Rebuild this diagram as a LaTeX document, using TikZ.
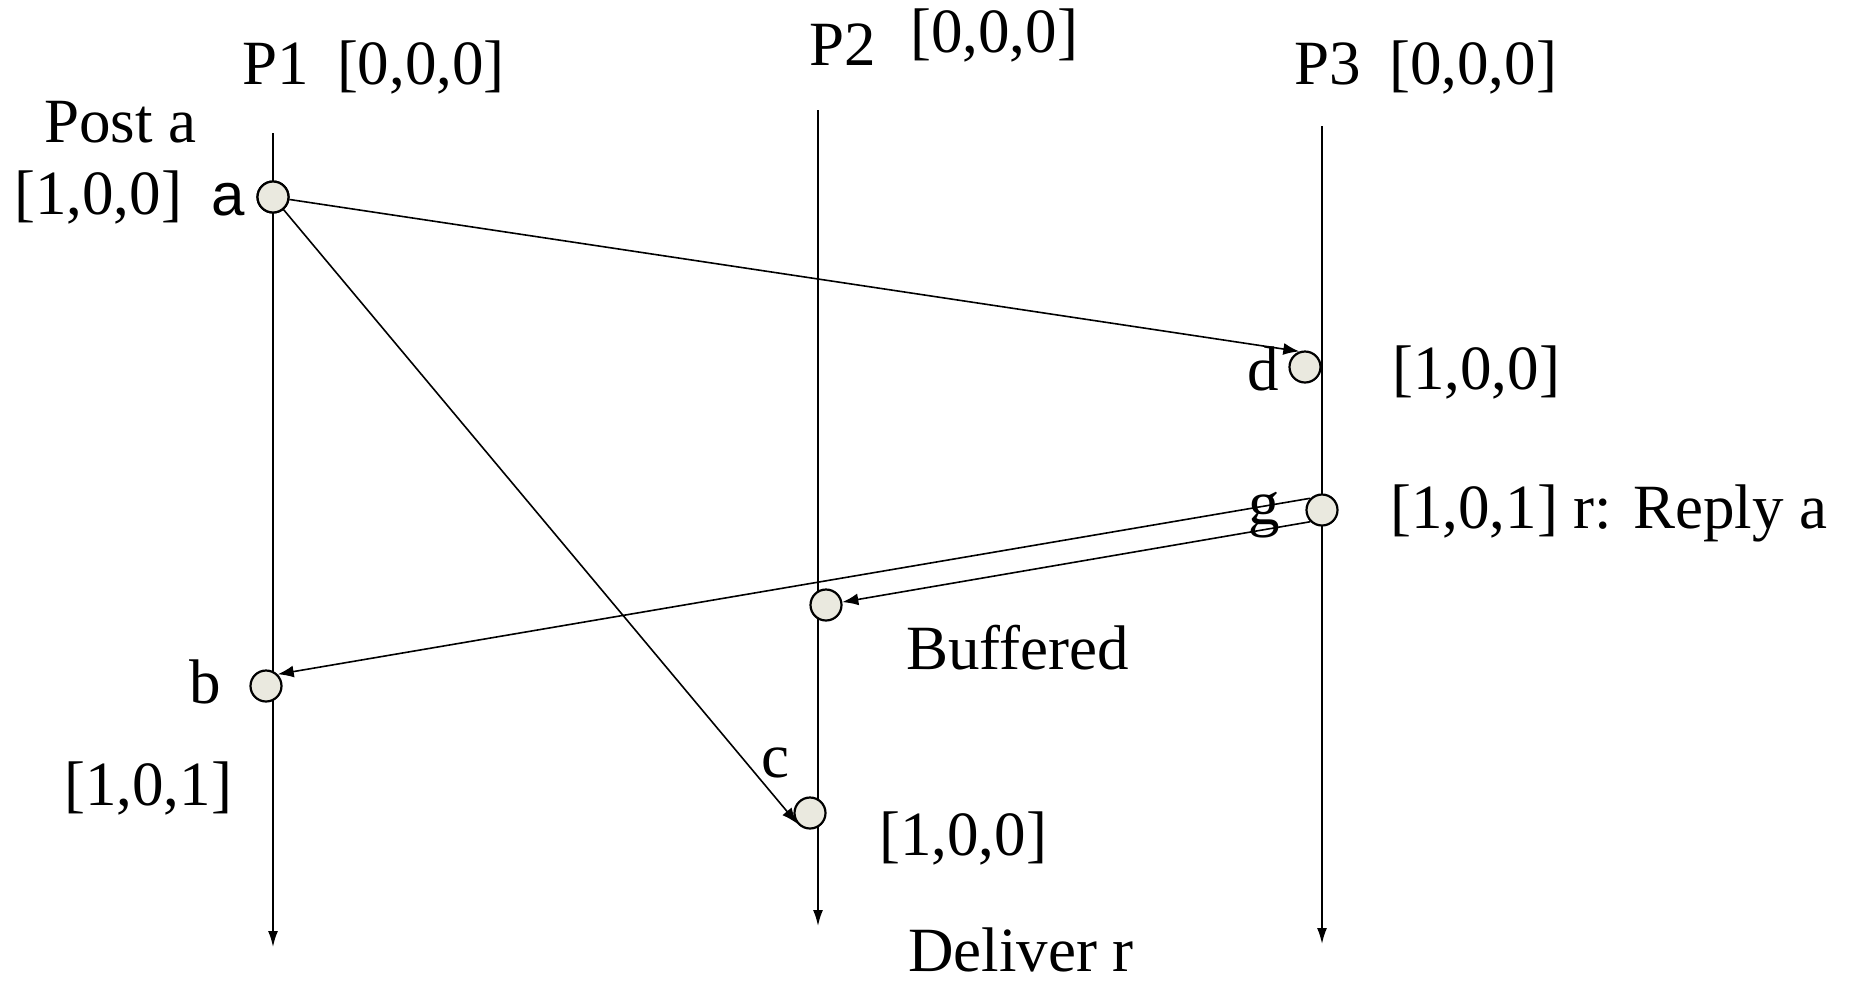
\documentclass[tikz,border=0pt]{standalone}
\usepackage{fontspec}
\setmainfont{Liberation Serif}
\newfontfamily\arialfont{Liberation Sans}
\usetikzlibrary{arrows.meta}
\definecolor{evfill}{HTML}{EAE9DF}
\tikzset{
  lifeline/.style={line width=1.8pt,-{Latex[length=16pt,width=10pt]}},
  msg/.style={line width=1.6pt,-{Latex[length=16pt,width=12pt]}},
  event/.style={circle,draw,line width=2.2pt,fill=evfill,minimum size=31pt,inner sep=0pt},
  lbl/.style={font=\fontsize{63}{70}\selectfont,inner sep=0pt,anchor=west}
}
\begin{document}
\begin{tikzpicture}[x=1pt,y=-1pt]
\useasboundingbox (0,0) rectangle (1850,986);
% lifelines
\coordinate (p1t) at (273,133);
\coordinate (p1b) at (273,947);
\coordinate (p2t) at (818,110);
\coordinate (p2b) at (818,926);
\coordinate (p3t) at (1322,126);
\coordinate (p3b) at (1322,944);
\draw[lifeline] (p1t) -- (p1b);
\draw[lifeline] (p2t) -- (p2b);
\draw[lifeline] (p3t) -- (p3b);
% events
\node[event] (a) at (273,197) {};
\node[event] (d) at (1305,367) {};
\node[event] (g) at (1322,510) {};
\node[event] (buf) at (826,605) {};
\node[event] (b) at (266,686) {};
\node[event] (c) at (810,813) {};
% messages
\draw[msg] (a) -- (d.110);
\draw[msg] (a) -- (c.220);
\draw[msg] (g.135) -- (b.45);
\draw[msg] (g.225) -- (buf.10);
\node[event] at (a) {};
% labels
\node[lbl] (t1) at (242,67) {P1\hspace{0.45em}[0,0,0]};
\node[lbl] (t2) at (809,45) {P2};
\node[lbl] (t2b) at (910,35) {[0,0,0]};
\node[lbl] (t3) at (1294,67) {P3\hspace{0.45em}[0,0,0]};
\node[lbl] (post) at (44,122) {Post a};
\node[lbl] (va) at (14,197) {[1,0,0]};
\node[lbl,font=\arialfont\fontsize{60}{70}\selectfont] (la) at (211,200) {a};
\node[lbl] (ld) at (1247,369) {d};
\node[lbl] (vd) at (1392,372) {[1,0,0]};
\node[lbl] (lg) at (1248,515) {g};
\node[lbl] (vg) at (1390,513) {[1,0,1] r: Reply a};
\node[lbl] (lbuf) at (906,648) {Buffered};
\node[lbl] (lb) at (189,682) {b};
\node[lbl] (vb) at (64,788) {[1,0,1]};
\node[lbl] (lc) at (761,763) {c};
\node[lbl] (vc) at (879,838) {[1,0,0]};
\node[lbl] (del) at (908,950) {Deliver r};
\end{tikzpicture}
\end{document}
